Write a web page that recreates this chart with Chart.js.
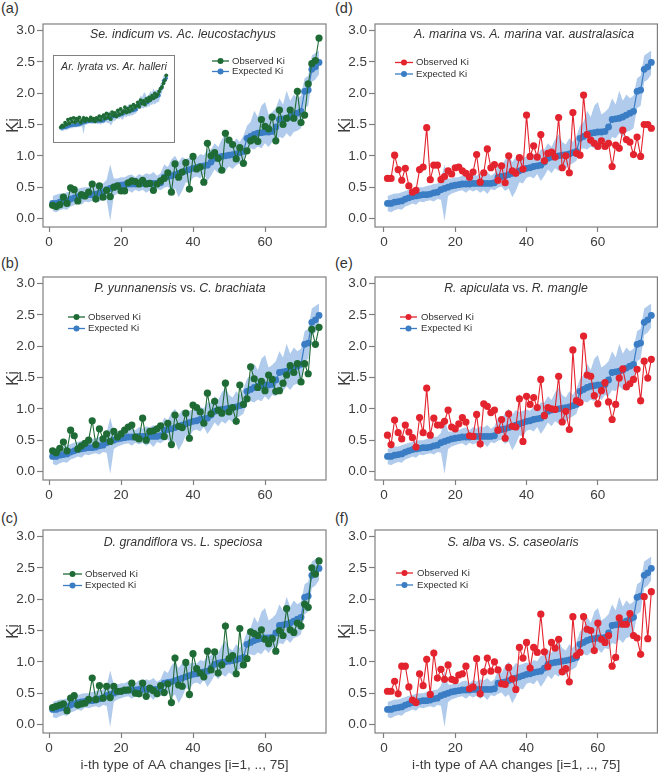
<!DOCTYPE html>
<html><head><meta charset="utf-8">
<script src="https://cdn.jsdelivr.net/npm/chart.js@4.4.1/dist/chart.umd.min.js"></script>
<style>
body{margin:0;width:661px;height:775px;background:#fff;position:relative;overflow:hidden;font-family:"Liberation Sans",Arial,sans-serif}
canvas{position:absolute}
.lbl{position:absolute;font-size:14.5px;line-height:16px;color:#333}
#insetBox{position:absolute;left:53px;top:55px;width:122px;height:88px;border:1px solid #808080;box-sizing:border-box;background:#fff}
</style></head><body>
<div class="lbl" style="left:1px;top:0px">(a)</div>
<div class="lbl" style="left:1px;top:255px">(b)</div>
<div class="lbl" style="left:1px;top:510px">(c)</div>
<div class="lbl" style="left:335px;top:0px">(d)</div>
<div class="lbl" style="left:335px;top:255px">(e)</div>
<div class="lbl" style="left:335px;top:510px">(f)</div>
<canvas id="pa" width="330" height="253" style="left:0;top:0"></canvas>
<canvas id="pb" width="330" height="253" style="left:0;top:253px"></canvas>
<canvas id="pc" width="330" height="269" style="left:0;top:506px"></canvas>
<canvas id="pd" width="330" height="253" style="left:331px;top:0"></canvas>
<canvas id="pe" width="330" height="253" style="left:331px;top:253px"></canvas>
<canvas id="pf" width="330" height="269" style="left:331px;top:506px"></canvas>
<div id="insetBox"></div>
<canvas id="pin" width="120" height="86" style="left:54px;top:56px"></canvas>
<script>
// ---------- data ----------
const xTicks = [0, 20, 40, 60];
const yTicks = [0, 0.5, 1, 1.5, 2, 2.5, 3];
const xTitle = 'i-th type of AA changes [i=1, .., 75]';

const expectedKi = [0.24,0.24,0.26,0.27,0.28,0.31,0.33,0.35,0.36,0.37,
0.38,0.38,0.39,0.41,0.42,0.46,0.48,0.50,0.52,0.53,
0.54,0.55,0.55,0.55,0.56,0.56,0.56,0.56,0.56,0.56,
0.57,0.66,0.67,0.68,0.70,0.72,0.74,0.76,0.78,0.80,
0.81,0.83,0.84,0.85,0.90,0.96,0.98,0.99,1.00,1.01,
1.02,1.03,1.05,1.07,1.28,1.31,1.34,1.36,1.37,1.38,
1.38,1.39,1.46,1.58,1.59,1.60,1.62,1.65,1.68,1.71,
2.03,2.05,2.38,2.42,2.49];

const bandUpper = [0.36,0.38,0.40,0.40,0.42,0.44,0.46,0.47,0.49,0.50,
0.50,0.52,0.53,0.55,0.56,0.62,0.86,0.64,0.64,0.66,
0.66,0.69,0.70,0.66,0.71,0.68,0.72,0.70,0.74,0.68,
0.72,0.86,0.82,0.94,1.00,0.90,0.98,0.95,0.97,0.99,
0.97,1.03,1.01,1.10,1.10,1.20,1.14,1.26,1.34,1.22,
1.18,1.28,1.22,1.32,1.48,1.54,1.72,1.62,1.80,1.86,
1.66,1.70,1.76,1.92,1.82,2.04,1.88,1.98,1.92,1.96,
2.24,2.28,2.60,2.64,2.68];

const bandLower = [0.12,0.10,0.13,0.15,0.14,0.19,0.21,0.24,0.22,0.27,
0.26,0.28,0.29,0.27,0.31,0.30,-0.04,0.36,0.40,0.42,
0.44,0.45,0.41,0.46,0.43,0.46,0.41,0.45,0.39,0.47,
0.45,0.49,0.51,0.44,0.48,0.34,0.44,0.58,0.56,0.65,
0.67,0.64,0.71,0.60,0.68,0.78,0.72,0.80,0.76,0.83,
0.79,0.85,0.88,0.92,1.10,1.12,1.10,1.15,1.12,1.20,
1.14,1.22,1.20,1.30,1.28,1.36,1.30,1.38,1.40,1.44,
1.76,1.80,2.18,2.22,2.30];

const obsA = [0.21,0.19,0.22,0.34,0.24,0.49,0.46,0.28,0.38,0.36,
0.42,0.55,0.31,0.52,0.34,0.45,0.35,0.50,0.52,0.44,
0.44,0.57,0.60,0.59,0.55,0.61,0.55,0.56,0.45,0.55,
0.60,0.64,0.73,0.42,0.87,0.66,0.74,0.89,0.47,0.99,
0.79,0.82,0.58,1.20,1.00,1.05,0.96,0.77,1.36,1.25,
1.18,0.95,1.13,0.88,1.08,1.24,1.27,1.23,1.58,1.47,
1.43,1.62,1.24,1.73,1.50,1.60,1.73,1.60,2.03,1.53,
1.65,2.15,2.47,2.52,2.88];

const obsB = [0.33,0.30,0.37,0.47,0.33,0.66,0.57,0.36,0.41,0.45,
0.50,0.81,0.43,0.68,0.52,0.60,0.48,0.64,0.55,0.60,
0.66,0.71,0.74,0.55,0.52,0.85,0.50,0.64,0.65,0.68,
0.73,0.56,0.77,0.43,0.90,0.72,0.70,0.93,0.53,1.06,
1.02,0.95,0.77,1.25,0.92,1.12,0.98,0.93,1.41,0.95,
1.02,0.80,1.38,1.07,1.16,1.67,1.48,1.34,1.44,1.29,
1.54,1.47,1.28,1.29,1.41,1.54,1.69,1.58,1.72,1.43,
1.72,1.56,2.27,2.03,2.30];

const obsC = [0.27,0.29,0.31,0.33,0.22,0.42,0.46,0.31,0.33,0.34,
0.40,0.74,0.40,0.62,0.42,0.61,0.43,0.61,0.53,0.53,
0.55,0.55,0.66,0.50,0.49,0.66,0.45,0.58,0.54,0.49,
0.62,0.51,0.65,0.35,1.06,0.63,0.61,0.99,0.48,1.13,
0.89,0.82,0.76,1.17,0.87,1.16,0.82,0.95,1.57,1.05,
1.10,0.81,1.53,0.95,1.05,1.48,1.45,1.42,1.51,1.36,
1.29,1.37,1.17,1.50,1.42,1.85,1.51,1.47,1.62,1.57,
1.92,1.87,2.50,2.40,2.61];

const obsD = [0.64,0.64,1.01,0.78,0.61,0.80,0.52,0.42,0.45,0.78,
0.82,1.45,0.62,0.85,0.85,0.62,0.67,0.76,0.71,0.81,
0.82,0.76,0.72,0.66,0.74,1.02,0.58,0.73,1.11,0.81,
0.86,0.61,0.84,0.57,1.00,0.76,0.72,0.97,0.79,1.65,
0.99,1.16,0.98,1.34,0.92,1.04,1.06,0.98,1.61,0.81,
1.00,0.73,1.69,1.04,1.01,1.97,1.34,1.25,1.20,1.15,
1.24,1.15,1.20,0.83,1.17,1.12,1.41,1.26,1.22,1.02,
1.30,0.99,1.50,1.50,1.44];

const obsE = [0.58,0.43,0.82,0.62,0.52,0.74,0.63,0.54,0.39,0.86,
0.62,1.33,0.58,0.85,0.74,0.74,0.80,0.98,0.71,0.68,
0.76,0.86,0.79,0.57,0.56,0.91,0.44,1.08,1.04,0.94,
0.98,0.66,0.83,0.53,0.92,0.72,0.71,1.16,0.48,1.20,
1.07,1.18,1.02,1.47,0.89,1.02,1.00,0.99,1.52,0.79,
0.96,0.67,1.94,1.13,1.10,2.16,1.54,1.52,1.21,1.08,
1.29,1.42,1.11,0.83,1.07,1.49,1.64,1.35,1.40,1.47,
1.63,1.13,1.76,1.49,1.79];

const obsF = [0.53,0.53,0.69,0.49,0.93,0.93,0.60,0.39,0.35,0.81,
0.62,1.04,0.48,1.14,0.74,0.88,0.72,0.95,0.72,0.70,
0.79,0.81,0.93,0.57,0.60,1.05,0.49,0.84,1.06,0.85,
1.00,0.87,0.65,0.64,0.91,0.73,0.56,1.23,1.06,1.31,
0.90,1.23,1.15,1.76,1.16,0.92,1.31,1.22,1.36,0.84,
0.89,0.68,1.72,1.10,1.15,1.72,1.52,1.50,1.18,1.62,
1.36,1.31,1.42,0.93,1.07,1.70,1.60,1.60,1.77,1.42,
1.38,1.12,2.04,1.37,2.12];

// inset (Ar. lyrata vs. Ar. halleri) observed values
const insetObs = [0.28,0.36,0.30,0.48,0.40,0.62,0.45,0.66,0.52,0.70,
0.50,0.66,0.56,0.72,0.48,0.60,0.70,0.55,0.68,0.62,
0.58,0.72,0.60,0.66,0.54,0.70,0.62,0.78,0.60,0.74,
0.82,0.66,0.90,0.72,0.86,0.64,0.96,0.80,0.92,0.76,
1.04,0.84,1.10,0.90,1.00,1.18,0.94,1.12,0.98,1.22,
1.06,1.30,1.16,1.24,1.40,1.20,1.50,1.34,1.46,1.30,
1.56,1.44,1.62,1.50,1.70,1.58,1.80,1.66,1.76,1.90,
2.02,2.10,2.26,2.40,2.62];

// ---------- styling ----------
const GREEN = '#1e6b36', RED = '#e3232d', BLUE = '#3a7dc4', BAND = 'rgba(80,140,210,0.45)';
const FONT = '"Liberation Sans", Arial, sans-serif';
const AXC = '#808080', TXC = '#3c3c3c';

const panels = {
  pa: {obs: obsA, color: GREEN, col: 0, bottom: false,
       title: [['Se. indicum vs. Ac. leucostachyus', true]], tx: 183, ty: 35,
       leg: {x1: 212, x2: 229, tx: 232, y1: 61, y2: 71.5}},
  pb: {obs: obsB, color: GREEN, col: 0, bottom: false,
       title: [['P. yunnanensis', true], [' vs. ', false], ['C. brachiata', true]], tx: 180, ty: 36,
       leg: {x1: 68, x2: 85, tx: 88, y1: 64, y2: 75.5}},
  pc: {obs: obsC, color: GREEN, col: 0, bottom: true,
       title: [['D. grandiflora', true], [' vs. ', false], ['L. speciosa', true]], tx: 183, ty: 37,
       leg: {x1: 63, x2: 82, tx: 85, y1: 68, y2: 79.5}},
  pd: {obs: obsD, color: RED, col: 1, bottom: false,
       title: [['A. marina', true], [' vs. ', false], ['A. marina', true], [' var. ', false], ['australasica', true]], tx: 193, ty: 35,
       leg: {x1: 64, x2: 82, tx: 85, y1: 62.5, y2: 74}},
  pe: {obs: obsE, color: RED, col: 1, bottom: false,
       title: [['R. apiculata', true], [' vs. ', false], ['R. mangle', true]], tx: 185, ty: 36,
       leg: {x1: 69, x2: 86, tx: 90, y1: 64, y2: 75.5}},
  pf: {obs: obsF, color: RED, col: 1, bottom: true,
       title: [['S. alba', true], [' vs. ', false], ['S. caseolaris', true]], tx: 182, ty: 37,
       leg: {x1: 65, x2: 82, tx: 86, y1: 67, y2: 79}}
};

const pts = arr => arr.map((v, k) => ({x: k + 1, y: v}));

const decor = {
  id: 'decor',
  afterDraw(chart) {
    const p = panels[chart.canvas.id];
    if (!p) return;
    const ctx = chart.ctx, a = chart.chartArea;
    ctx.save();
    ctx.strokeStyle = AXC; ctx.lineWidth = 1.2;
    ctx.strokeRect(a.left, a.top, a.right - a.left, a.bottom - a.top);
    // title
    ctx.fillStyle = '#333'; ctx.textBaseline = 'middle'; ctx.textAlign = 'left';
    const fnt = it => (it ? 'italic ' : '') + '12.3px ' + FONT;
    let w = 0;
    p.title.forEach(s => { ctx.font = fnt(s[1]); w += ctx.measureText(s[0]).width; });
    let x = p.tx - w / 2;
    p.title.forEach(s => { ctx.font = fnt(s[1]); ctx.fillText(s[0], x, p.ty); x += ctx.measureText(s[0]).width; });
    // legend
    const L = p.leg;
    [[chart.data.datasets[0].label, p.color, L.y1], [chart.data.datasets[1].label, BLUE, L.y2]].forEach(([lab, c, y]) => {
      ctx.strokeStyle = c; ctx.lineWidth = 1.3;
      ctx.beginPath(); ctx.moveTo(L.x1, y); ctx.lineTo(L.x2, y); ctx.stroke();
      ctx.fillStyle = c; ctx.beginPath(); ctx.arc((L.x1 + L.x2) / 2, y, 3, 0, Math.PI * 2); ctx.fill();
      ctx.fillStyle = '#333'; ctx.font = '9.6px ' + FONT; ctx.textBaseline = 'middle';
      ctx.fillText(lab, L.tx, y);
    });
    ctx.restore();
  }
};

function makePanel(id) {
  const p = panels[id];
  const leftCol = p.col === 0;
  new Chart(document.getElementById(id), {
    type: 'line',
    data: {
      datasets: [
        {label: 'Observed Ki', data: pts(p.obs), borderColor: p.color, backgroundColor: p.color,
         borderWidth: 1.1, pointRadius: 3.6, pointBorderWidth: 0, tension: 0, fill: false},
        {label: 'Expected Ki', data: pts(expectedKi), borderColor: BLUE, backgroundColor: BLUE,
         borderWidth: 1.2, pointRadius: 3.4, pointBorderWidth: 0, tension: 0, fill: false},
        {label: 'upper', data: pts(bandUpper), borderWidth: 0, pointRadius: 0, borderColor: 'rgba(0,0,0,0)',
         backgroundColor: BAND, fill: '+1', tension: 0},
        {label: 'lower', data: pts(bandLower), borderWidth: 0, pointRadius: 0, borderColor: 'rgba(0,0,0,0)',
         backgroundColor: BAND, fill: false, tension: 0}
      ]
    },
    options: {
      responsive: false, animation: false, devicePixelRatio: 1,
      layout: {padding: {top: 24, right: leftCol ? 4 : 1, left: 0, bottom: 0}},
      plugins: {legend: {display: false}, tooltip: {enabled: false}},
      elements: {point: {hoverRadius: 0}},
      scales: {
        x: {
          type: 'linear', min: leftCol ? -1.67 : -2.5, max: leftCol ? 76.94 : 76.7,
          afterBuildTicks: s => { s.ticks = xTicks.map(v => ({value: v})); },
          afterFit: s => { s.height = p.bottom ? 42 : 26; },
          grid: {display: true, drawOnChartArea: false, drawTicks: true, tickLength: 5, tickColor: AXC, tickWidth: 1.2},
          border: {display: false},
          ticks: {font: {size: 13.5, family: FONT}, color: TXC, padding: 2, maxRotation: 0, autoSkip: false},
          title: {display: p.bottom, text: xTitle, font: {size: 13.6, family: FONT}, color: TXC, padding: {top: 0, bottom: 2}}
        },
        y: {
          min: -0.136, max: 3.104,
          afterBuildTicks: s => { s.ticks = yTicks.map(v => ({value: v})); },
          afterFit: s => { s.width = leftCol ? 43 : 44; },
          grid: {display: true, drawOnChartArea: false, drawTicks: true, tickLength: 6, tickColor: AXC, tickWidth: 1.2},
          border: {display: false},
          ticks: {font: {size: 13.5, family: FONT}, color: TXC, padding: 2, callback: v => v.toFixed(1)},
          title: {display: true, text: 'Ki', font: {size: 17, family: FONT}, color: TXC, padding: {top: leftCol ? 3 : 4, bottom: 0}}
        }
      }
    },
    plugins: [decor]
  });
}
Object.keys(panels).forEach(makePanel);

// inset chart
const insetDecor = {
  id: 'insetDecor',
  afterDraw(chart) {
    const ctx = chart.ctx;
    ctx.save();
    ctx.fillStyle = '#333'; ctx.font = 'italic 10.6px ' + FONT;
    ctx.textAlign = 'center'; ctx.textBaseline = 'middle';
    ctx.fillText('Ar. lyrata vs. Ar. halleri', 60, 11);
    ctx.restore();
  }
};
new Chart(document.getElementById('pin'), {
  type: 'line',
  data: {
    datasets: [
      {label: 'Observed Ki', data: pts(insetObs), borderColor: GREEN, backgroundColor: GREEN,
       borderWidth: 1, pointRadius: 1.9, pointBorderWidth: 0, tension: 0, fill: false},
      {label: 'Expected Ki', data: pts(expectedKi), borderColor: BLUE, backgroundColor: BLUE,
       borderWidth: 1, pointRadius: 1.7, pointBorderWidth: 0, tension: 0, fill: false},
      {label: 'upper', data: pts(bandUpper), borderWidth: 0, pointRadius: 0, borderColor: 'rgba(0,0,0,0)',
       backgroundColor: BAND, fill: '+1', tension: 0},
      {label: 'lower', data: pts(bandLower), borderWidth: 0, pointRadius: 0, borderColor: 'rgba(0,0,0,0)',
       backgroundColor: BAND, fill: false, tension: 0}
    ]
  },
  options: {
    responsive: false, animation: false, devicePixelRatio: 1,
    layout: {padding: 0},
    plugins: {legend: {display: false}, tooltip: {enabled: false}},
    scales: {
      x: {type: 'linear', min: -0.96, max: 77.6, display: false},
      y: {min: -0.21, max: 3.31, display: false}
    }
  },
  plugins: [insetDecor]
});
</script>
</body></html>
